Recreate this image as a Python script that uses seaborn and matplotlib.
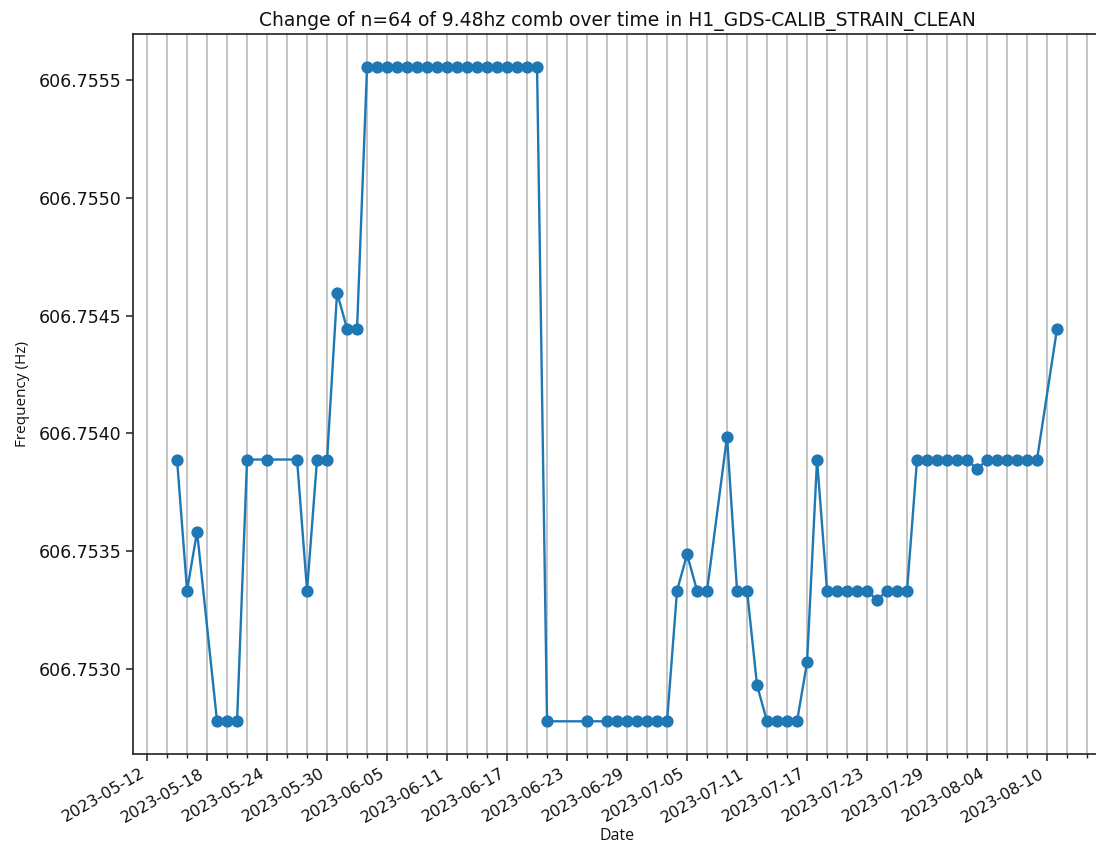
import matplotlib
matplotlib.use("Agg")
import matplotlib.pyplot as plt
import matplotlib.dates as mdates
from matplotlib.ticker import FormatStrFormatter, FixedLocator
import pandas as pd
import seaborn as sns

# Daily measurements of the n=64 harmonic of the 9.48 Hz comb
dates = [
    "2023-05-15", "2023-05-16", "2023-05-17", "2023-05-19", "2023-05-20",
    "2023-05-21", "2023-05-22", "2023-05-24", "2023-05-27", "2023-05-28",
    "2023-05-29", "2023-05-30", "2023-05-31", "2023-06-01", "2023-06-02",
    "2023-06-03", "2023-06-04", "2023-06-05", "2023-06-06", "2023-06-07",
    "2023-06-08", "2023-06-09", "2023-06-10", "2023-06-11", "2023-06-12",
    "2023-06-13", "2023-06-14", "2023-06-15", "2023-06-16", "2023-06-17",
    "2023-06-18", "2023-06-19", "2023-06-20", "2023-06-21", "2023-06-25",
    "2023-06-27", "2023-06-28", "2023-06-29", "2023-06-30", "2023-07-01",
    "2023-07-02", "2023-07-03", "2023-07-04", "2023-07-05", "2023-07-06",
    "2023-07-07", "2023-07-09", "2023-07-10", "2023-07-11", "2023-07-12",
    "2023-07-13", "2023-07-14", "2023-07-15", "2023-07-16", "2023-07-17",
    "2023-07-18", "2023-07-19", "2023-07-20", "2023-07-21", "2023-07-22",
    "2023-07-23", "2023-07-24", "2023-07-25", "2023-07-26", "2023-07-27",
    "2023-07-28", "2023-07-29", "2023-07-30", "2023-07-31", "2023-08-01",
    "2023-08-02", "2023-08-03", "2023-08-04", "2023-08-05", "2023-08-06",
    "2023-08-07", "2023-08-08", "2023-08-09", "2023-08-11",
]

frequency = [
    606.753889, 606.753333, 606.753583, 606.752778, 606.752778,
    606.752778, 606.753889, 606.753889, 606.753889, 606.753333,
    606.753889, 606.753889, 606.754597, 606.754444, 606.754444,
    606.755556, 606.755556, 606.755556, 606.755556, 606.755556,
    606.755556, 606.755556, 606.755556, 606.755556, 606.755556,
    606.755556, 606.755556, 606.755556, 606.755556, 606.755556,
    606.755556, 606.755556, 606.755556, 606.752778, 606.752778,
    606.752778, 606.752778, 606.752778, 606.752778, 606.752778,
    606.752778, 606.752778, 606.753333, 606.753486, 606.753333,
    606.753333, 606.753986, 606.753333, 606.753333, 606.752931,
    606.752778, 606.752778, 606.752778, 606.752778, 606.753028,
    606.753889, 606.753333, 606.753333, 606.753333, 606.753333,
    606.753333, 606.753292, 606.753333, 606.753333, 606.753333,
    606.753889, 606.753889, 606.753889, 606.753889, 606.753889,
    606.753889, 606.753847, 606.753889, 606.753889, 606.753889,
    606.753889, 606.753889, 606.753889, 606.754444,
]

title = "Change of n=64 of 9.48hz comb over time in H1_GDS-CALIB_STRAIN_CLEAN"
x_label = "Date"
y_label = "Frequency (Hz)"

df = pd.DataFrame({"Date": pd.to_datetime(dates), "Frequency": frequency})

sns.set_style("ticks")
plt.rcParams["font.family"] = ["DejaVu Sans"]
for key in ("text.color", "axes.labelcolor", "xtick.color", "ytick.color"):
    plt.rcParams[key] = "#111111"

fig = plt.figure(figsize=(10.96, 8.5), dpi=100)
ax = fig.add_axes([0.1214, 0.1129, 0.8832, 0.8471])

sns.lineplot(
    data=df, x="Date", y="Frequency", ax=ax,
    color="#1f77b4", linewidth=1.7,
    marker="o", markersize=8.8, markeredgewidth=0,
    markeredgecolor="#1f77b4",
)

# Major ticks every 6 days from 12 May, minor ticks (and extra grid lines) every 2 days
major_days = pd.date_range("2023-05-12", "2023-08-16", freq="6D")
minor_days = pd.date_range("2023-05-12", "2023-08-16", freq="2D")
ax.xaxis.set_major_locator(FixedLocator(mdates.date2num(major_days)))
ax.xaxis.set_minor_locator(FixedLocator(mdates.date2num(minor_days)))
ax.xaxis.set_major_formatter(mdates.DateFormatter("%Y-%m-%d"))
ax.yaxis.set_major_formatter(FormatStrFormatter("%.4f"))

ax.grid(True, which="both", axis="x", color="#c4c4c4", linewidth=1.4)
ax.set_axisbelow(True)

for lbl in ax.get_xticklabels():
    lbl.set_rotation(30)
    lbl.set_ha("right")
ax.tick_params(axis="x", which="major", labelsize=11.5, length=5, width=1.1, color="#222222")
ax.tick_params(axis="y", which="major", labelsize=12.5, length=5, width=1.1, color="#222222")
ax.tick_params(axis="x", which="minor", length=3, width=1.0, color="#222222")

for sp in ax.spines.values():
    sp.set_linewidth(1.2)
    sp.set_color("#222222")

ax.set_title(title, fontsize=13.5, pad=6)
ax.set_xlabel(x_label, fontsize=11.5, family=["Open Sans", "DejaVu Sans"], labelpad=2)
ax.set_ylabel(y_label, fontsize=11, family=["Open Sans", "DejaVu Sans"], labelpad=6)

fig.savefig("out.png", dpi=100)
